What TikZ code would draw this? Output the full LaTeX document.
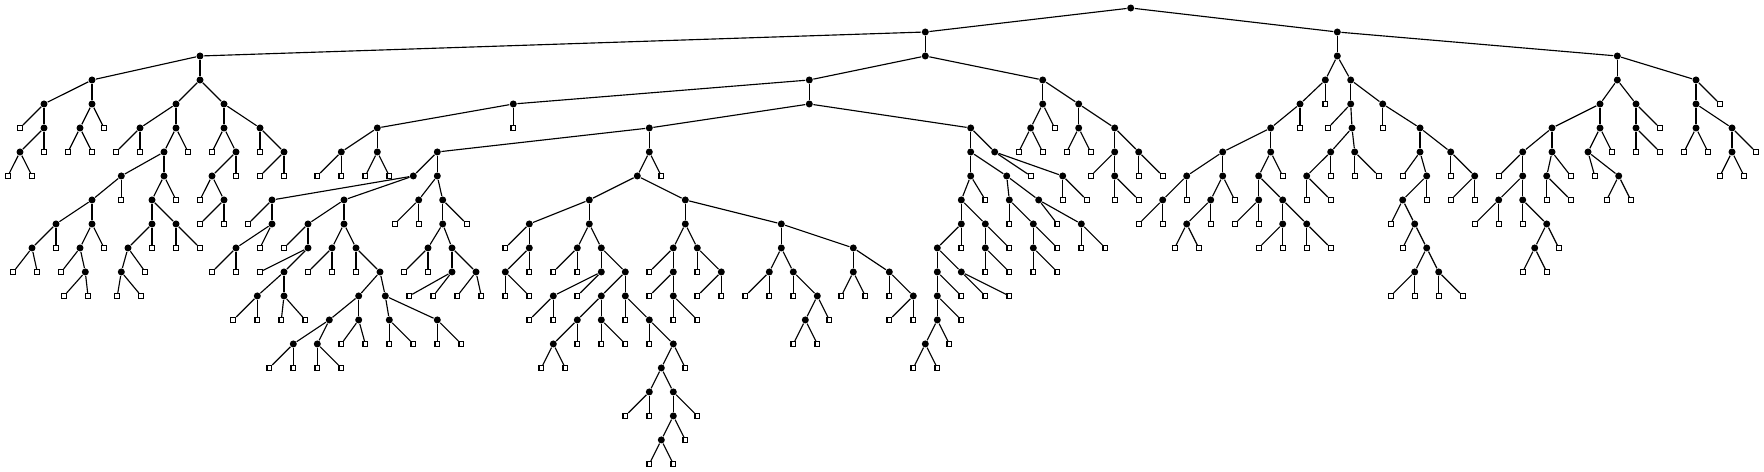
\documentclass[tikz,border=0pt]{standalone}
\usepackage{tikz}

\tikzset{
  inode/.style={circle, fill=black, inner sep=0pt, minimum size=0.14cm},
  leafbox/.style={rectangle, draw=black, fill=white, inner sep=0pt, minimum size=0.095cm},
}

\begin{document}
\begin{tikzpicture}[x=0.02cm, y=-0.48cm, line width=0.65pt]
    \useasboundingbox (0,-0.3333) rectangle (1764,19.3333);
    \node[inode] (n0) at (1130.7,0) {};
    \foreach \n/\px/\lv/\pa in {
      1/925.3/1/0, 2/1337.3/1/0, 3/200/2/1, 4/925.3/2/1, 5/1337.3/2/2, 6/1617.3/2/2,
      7/92/3/3, 8/200/3/3, 9/44/4/7, 10/92/4/7, 11/44/5/9, 12/20/6/11, 13/80/5/10,
      14/176/4/8, 15/224/4/8, 16/140/5/14, 17/176/5/14, 18/164/6/17, 19/121.3/7/18, 20/164/7/18,
      21/92/8/19, 22/56/9/21, 23/92/9/21, 24/32/10/22, 25/80/10/23, 26/85.3/11/25,
      27/152/8/20, 28/152/9/27, 29/176/9/27, 30/128/10/28, 31/121.3/11/30,
      32/224/5/15, 33/260/5/15, 34/236/6/32, 35/212/7/34, 36/224/8/35, 37/284/6/33,
      38/809.3/3/4, 39/1042.7/3/4, 40/513.3/4/38, 41/809.3/4/38, 42/377.3/5/40, 43/341.3/6/42, 44/377.3/6/42,
      45/649.3/5/41, 46/970.7/5/41, 47/437.3/6/45, 48/649.3/6/45, 49/413.3/7/47, 50/437.3/7/47,
      51/272/8/49, 52/344/8/49, 53/272/9/51, 54/236/10/53, 55/308/9/52, 56/344/9/52, 57/308/10/55, 58/284/11/57,
      59/257.3/12/58, 60/284/12/58, 61/332/10/56, 62/356/10/56, 63/380/11/62, 64/358.7/12/63, 65/385.3/12/63,
      66/329.3/13/64, 67/358.7/13/64, 68/293.3/14/66, 69/317.3/14/66, 70/389.3/13/65, 71/437.3/13/65,
      72/418.7/8/50, 73/442.7/8/50, 74/442.7/9/73, 75/428/10/74, 76/452/10/74, 77/452/11/76, 78/476/11/76,
      79/637.3/7/48, 80/589.3/8/79, 81/685.3/8/79, 82/529.3/9/80, 83/589.3/9/80, 84/529.3/10/82, 85/505.3/11/84,
      86/577.3/10/83, 87/601.3/10/83, 88/601.3/11/87, 89/625.3/11/87, 90/553.3/12/88, 91/601.3/12/89, 92/625.3/12/89,
      93/577.3/13/91, 94/601.3/13/91, 95/553.3/14/93, 96/649.3/13/92, 97/673.3/14/96, 98/661.3/15/97,
      99/649.3/16/98, 100/673.3/16/98, 101/673.3/17/100, 102/661.3/18/101,
      103/685.3/9/81, 104/781.3/9/81, 105/673.3/10/103, 106/673.3/11/105, 107/673.3/12/106, 108/697.3/10/103, 109/721.3/11/108,
      110/781.3/10/104, 111/853.3/10/104, 112/769.3/11/110, 113/793.3/11/110, 114/817.3/12/113, 115/805.3/13/114,
      116/853.3/11/111, 117/889.3/11/111, 118/913.3/12/117,
      119/970.7/6/46, 120/994.7/6/46, 121/970.7/7/119, 122/1006.7/7/119, 123/961.3/8/121, 124/961.3/9/123, 125/985.3/9/123,
      126/937.3/10/124, 127/937.3/11/126, 128/961.3/11/126, 129/937.3/12/127, 130/937.3/13/129, 131/925.3/14/130,
      132/985.3/10/125, 133/1009.3/8/122, 134/1038.7/8/122, 135/1033.3/9/133, 136/1033.3/10/135, 137/1081.3/9/134, 138/1062.7/7/120,
      139/1042.7/4/39, 140/1078.7/4/39, 141/1030.7/5/139, 142/1078.7/5/140, 143/1114.7/5/140, 144/1114.7/6/143, 145/1138.7/6/143, 146/1114.7/7/144,
      147/1325.3/3/5, 148/1350.7/3/5, 149/1300/4/147, 150/1270.7/5/149, 151/1222.7/6/150, 152/1270.7/6/150,
      153/1186.7/7/151, 154/1222.7/7/151, 155/1162.7/8/153, 156/1210.7/8/154, 157/1186.7/9/156,
      158/1258.7/7/152, 159/1258.7/8/158, 160/1282.7/8/158, 161/1282.7/9/160, 162/1306.7/9/160,
      163/1350.7/4/148, 164/1382.7/4/148, 165/1352/5/163, 166/1330.7/6/165, 167/1354.7/6/165, 168/1306.7/7/166,
      169/1420/5/164, 170/1420/6/169, 171/1450.7/6/169, 172/1426.7/7/170, 173/1402.7/8/172, 174/1414.7/9/173,
      175/1426.7/10/174, 176/1414.7/11/175, 177/1438.7/11/175, 178/1474.7/7/171,
      179/1617.3/3/6, 180/1696/3/6, 181/1600/4/179, 182/1636/4/179, 183/1552/5/181, 184/1600/5/181,
      185/1522.7/6/183, 186/1552/6/183, 187/1522.7/7/185, 188/1498.7/8/187, 189/1522.7/8/187, 190/1546.7/9/189, 191/1534.7/10/190,
      192/1546.7/7/186, 193/1588/6/184, 194/1618.7/7/193, 195/1636/5/182, 196/1696/4/180, 197/1696/5/196, 198/1732/5/196, 199/1732/6/198}
    {
      \node[inode] (n\n) at (\px,\lv) {};
      \draw (n\pa) -- (n\n);
    }
    \foreach \px/\lv/\pa [count=\i] in {
      20/5/9, 104/5/10, 44/6/11, 8/7/12, 32/7/12, 68/6/13, 92/6/13, 116/6/16, 140/6/16, 188/6/17,
      121.3/8/19, 176/8/20, 56/10/22, 104/10/23, 13.3/11/24, 37.3/11/24, 61.3/11/25, 64/12/26, 88/12/26,
      152/10/28, 176/10/29, 200/10/29, 145.3/11/30, 117.3/12/31, 141.3/12/31,
      212/6/32, 260/6/33, 236/7/34, 200/8/35, 200/9/36, 224/9/36, 260/7/37, 284/7/37,
      513.3/5/40, 317.3/7/43, 341.3/7/43, 365.3/7/44, 389.3/7/44, 661.3/7/48,
      248/9/51, 260/10/53, 212/11/54, 236/11/54, 284/10/55, 260/11/57,
      233.3/13/59, 257.3/13/59, 281.3/13/60, 305.3/13/60, 308/11/61, 332/11/61, 356/11/62,
      341.3/14/67, 365.3/14/67, 269.3/15/68, 293.3/15/68, 317.3/15/69, 341.3/15/69,
      389.3/14/70, 413.3/14/70, 437.3/14/71, 461.3/14/71,
      394.7/9/72, 418.7/9/72, 466.7/9/73, 404/11/75, 428/11/75, 409.3/12/77, 433.3/12/77, 457.3/12/78, 481.3/12/78,
      505.3/10/82, 529.3/11/84, 505.3/12/85, 529.3/12/85, 553.3/11/86, 577.3/11/86, 577.3/12/88,
      529.3/13/90, 553.3/13/90, 625.3/13/92, 577.3/14/93, 601.3/14/94, 625.3/14/94, 541.3/15/95, 565.3/15/95,
      649.3/14/96, 685.3/15/97, 625.3/17/99, 649.3/17/99, 697.3/17/100, 685.3/18/101, 649.3/19/102, 673.3/19/102,
      649.3/11/105, 649.3/12/106, 673.3/13/107, 697.3/13/107, 697.3/11/108, 697.3/12/109, 721.3/12/109,
      745.3/12/112, 769.3/12/112, 793.3/12/113, 829.3/13/114, 793.3/14/115, 817.3/14/115,
      841.3/12/116, 865.3/12/116, 889.3/12/117, 889.3/13/118, 913.3/13/118,
      1030.7/7/120, 985.3/8/121, 961.3/10/124, 1009.3/10/125, 961.3/12/127, 985.3/12/128, 1009.3/12/128,
      961.3/13/129, 949.3/14/130, 913.3/15/131, 937.3/15/131, 985.3/11/132, 1009.3/11/132,
      1009.3/9/133, 1057.3/9/134, 1057.3/10/135, 1033.3/11/136, 1057.3/11/136, 1081.3/10/137, 1105.3/10/137,
      1062.7/8/138, 1086.7/8/138, 1054.7/5/139, 1018.7/6/141, 1042.7/6/141, 1066.7/6/142, 1090.7/6/142,
      1090.7/7/144, 1138.7/7/145, 1162.7/7/145, 1114.7/8/146, 1138.7/8/146,
      1325.3/4/147, 1300/5/149, 1282.7/7/152, 1186.7/8/153, 1234.7/8/154, 1138.7/9/155, 1162.7/9/155,
      1210.7/9/156, 1174.7/10/157, 1198.7/10/157, 1234.7/9/159, 1258.7/9/159, 1258.7/10/161, 1282.7/10/161,
      1306.7/10/162, 1330.7/10/162, 1328/5/163, 1382.7/5/164, 1330.7/7/166, 1354.7/7/167, 1378.7/7/167,
      1306.7/8/168, 1330.7/8/168, 1402.7/7/170, 1450.7/7/171, 1426.7/8/172, 1390.7/9/173, 1402.7/10/174,
      1390.7/12/176, 1414.7/12/176, 1438.7/12/177, 1462.7/12/177, 1450.7/8/178, 1474.7/8/178,
      1720/4/180, 1660/5/182, 1612/6/184, 1498.7/7/185, 1570.7/7/186, 1474.7/9/188, 1498.7/9/188,
      1522.7/9/189, 1558.7/10/190, 1522.7/11/191, 1546.7/11/191, 1546.7/8/192, 1570.7/8/192,
      1594.7/7/193, 1606.7/8/194, 1630.7/8/194, 1636/6/195, 1660/6/195, 1684/6/197, 1708/6/197,
      1756/6/198, 1720/7/199, 1744/7/199}
    {
      \node[leafbox] (l\i) at (\px,\lv) {};
      \draw (n\pa) -- (l\i);
    }
\end{tikzpicture}
\end{document}
